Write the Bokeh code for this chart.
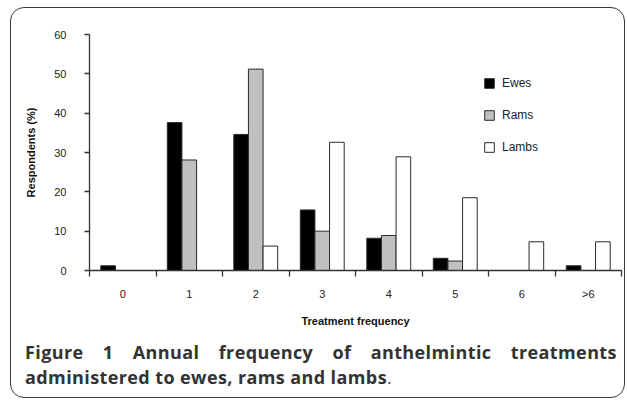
from bokeh.plotting import figure
from bokeh.layouts import column
from bokeh.models import (ColumnDataSource, Range1d, FixedTicker, Legend,
                          LegendItem, Div)
from bokeh.transform import dodge
from bokeh.embed import file_html
from bokeh.resources import INLINE

# ---- data ----
categories = ["0", "1", "2", "3", "4", "5", "6", ">6"]
ewes = [1.2, 37.6, 34.6, 15.4, 8.2, 3.1, 0.0, 1.2]
rams = [0.0, 28.1, 51.2, 10.0, 8.9, 2.4, 0.0, 0.0]
lambs = [0.0, 0.0, 6.2, 32.6, 28.9, 18.5, 7.3, 7.3]
y_ticks = [0, 10, 20, 30, 40, 50, 60]
series_names = ["Ewes", "Rams", "Lambs"]
x_title = "Treatment frequency"
y_title = "Respondents (%)"
caption_line1 = ["Figure", "1", "Annual", "frequency", "of", "anthelmintic", "treatments"]
caption_line2 = "administered to ewes, rams and lambs"

# ---- geometry (pixels) ----
FW, FH = 532, 236            # plot frame
ML, MR, MT, MB = 78, 3, 26, 70
W = ML + FW + MR             # 613
H2 = 57
N = len(categories)

centers = [i + 0.5 for i in range(N)]
src = ColumnDataSource(dict(x=centers, ewes=ewes, rams=rams, lambs=lambs))

p = figure(frame_width=FW, frame_height=FH, output_backend="svg", toolbar_location=None,
           x_range=Range1d(0, N), y_range=Range1d(0, 60),
           min_border_left=ML, min_border_right=MR,
           min_border_top=MT, min_border_bottom=MB)
p.outline_line_color = None
p.xgrid.grid_line_color = None
p.ygrid.grid_line_color = None
p.background_fill_color = "white"
p.border_fill_color = None

bw = 0.22
line_c = "#2b2b2b"
r1 = p.vbar(x=dodge("x", -bw, range=p.x_range), top="ewes", width=bw, source=src,
            fill_color="black", line_color=line_c, line_width=1)
r2 = p.vbar(x="x", top="rams", width=bw, source=src,
            fill_color="#c0c0c0", line_color=line_c, line_width=1)
r3 = p.vbar(x=dodge("x", bw, range=p.x_range), top="lambs", width=bw, source=src,
            fill_color="white", line_color=line_c, line_width=1)

axis_c = "#333333"
tick_font = "Liberation Sans"

xa = p.xaxis[0]
xa.ticker = FixedTicker(ticks=centers, minor_ticks=list(range(N + 1)))
xa.major_label_overrides = {c: lab for c, lab in zip(centers, categories)}
xa.major_tick_out = 0
xa.major_tick_in = 0
xa.major_tick_line_color = None
xa.minor_tick_out = 6
xa.minor_tick_in = 0
xa.minor_tick_line_color = axis_c
xa.minor_tick_line_width = 1.3
xa.axis_line_color = axis_c
xa.axis_line_width = 1.3
xa.major_label_standoff = 11
xa.major_label_text_font = tick_font
xa.major_label_text_font_size = "11px"
xa.major_label_text_color = "#222222"
xa.axis_label = x_title
xa.axis_label_text_font = tick_font
xa.axis_label_text_font_style = "bold"
xa.axis_label_text_font_size = "11px"
xa.axis_label_text_color = "#111111"
xa.axis_label_standoff = 12

ya = p.yaxis[0]
ya.ticker = FixedTicker(ticks=y_ticks, minor_ticks=[])
ya.major_tick_out = 5
ya.major_tick_in = 0
ya.major_tick_line_color = axis_c
ya.major_tick_line_width = 1.3
ya.minor_tick_line_color = None
ya.axis_line_color = axis_c
ya.axis_line_width = 1.3
ya.major_label_standoff = 18
ya.major_label_text_font = tick_font
ya.major_label_text_font_size = "11px"
ya.major_label_text_color = "#222222"
ya.axis_label = y_title
ya.axis_label_text_font = tick_font
ya.axis_label_text_font_style = "bold"
ya.axis_label_text_font_size = "11px"
ya.axis_label_text_color = "#111111"
ya.axis_label_standoff = 14

legend = Legend(items=[LegendItem(label=series_names[0], renderers=[r1]),
                       LegendItem(label=series_names[1], renderers=[r2]),
                       LegendItem(label=series_names[2], renderers=[r3])],
                location=(394, 116),
                padding=0, margin=0, spacing=18,
                glyph_width=12, glyph_height=12, label_height=14,
                label_standoff=7, border_line_color=None,
                background_fill_alpha=0,
                label_text_font=tick_font, label_text_font_size="12px",
                label_text_color="#222222")
p.add_layout(legend, "center")

# ---- caption (HTML text) ----
spans = "".join(f"<span>{w}</span>" for w in caption_line1)
html = (
    "<div style=\"font-family:'Open Sans',sans-serif; font-size:18px; font-weight:700;"
    " color:#333333; line-height:25px; letter-spacing:0.4px; padding:0 0 0 14px;"
    " width:613px; box-sizing:border-box; white-space:nowrap;\">"
    "<div style=\"display:flex; justify-content:space-between; width:592px;\">"
    f"{spans}</div>"
    f"<div>{caption_line2}<span style=\"font-weight:400; color:#555555\">.</span></div>"
    "</div>"
)
cap = Div(text=html, width=W, height=H2, margin=0)

lay = column(p, cap, spacing=0,
             styles={"border": "1.5px solid #3a3a3a", "border-radius": "14px",
                     "margin-left": "10px", "margin-top": "7px",
                     "background": "white"})

open("out.html", "w").write(file_html(lay, INLINE))
